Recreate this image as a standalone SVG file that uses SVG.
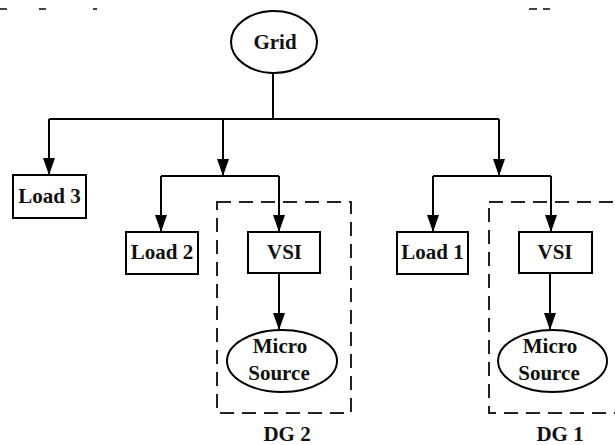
<svg xmlns="http://www.w3.org/2000/svg" width="615" height="445" viewBox="0 0 615 445">
  <style>
    .box { fill: #fff; stroke: #000; stroke-width: 2; }
    .dg { fill: none; stroke: #222; stroke-width: 2; stroke-dasharray: 14 8; }
    .wire { fill: none; stroke: #000; stroke-width: 2; }
    .lbl { font-family: "Liberation Serif", "Times New Roman", serif; font-weight: bold; font-size: 21px; fill: #111; text-anchor: middle; }
    .frag { fill: #444; }
  </style>
  <defs>
    <marker id="arrow" markerUnits="userSpaceOnUse" markerWidth="17" markerHeight="12" refX="17" refY="6" orient="auto">
      <path d="M0,0 L17,6 L0,12 Z" fill="#000"/>
    </marker>
  </defs>

  <rect width="615" height="445" fill="#fff"/>

  <!-- small marks along the top edge -->
  <g id="edge-marks">
    <rect class="frag" x="0" y="8" width="7" height="2"/>
    <rect class="frag" x="39" y="8" width="7" height="2"/>
    <rect class="frag" x="93" y="8" width="4" height="2"/>
    <rect class="frag" x="529" y="8" width="8" height="2"/>
    <rect class="frag" x="543" y="8" width="7" height="2"/>
  </g>

  <!-- distributed generation enclosures -->
  <g id="dg2">
    <rect class="dg" x="217" y="202" width="134" height="211"/>
    <text class="lbl" x="287" y="441">DG 2</text>
  </g>
  <g id="dg1">
    <rect class="dg" x="489" y="202" width="140" height="211"/>
    <text class="lbl" x="560" y="441">DG 1</text>
  </g>

  <g id="connectors">
    <path class="wire" d="M273,72 V119"/>
    <path class="wire" d="M49,119 H499"/>
    <path class="wire" d="M49,119 V175" marker-end="url(#arrow)"/>
    <path class="wire" d="M223,119 V176" marker-end="url(#arrow)"/>
    <path class="wire" d="M499,119 V176" marker-end="url(#arrow)"/>
    <path class="wire" d="M161,176 H279"/>
    <path class="wire" d="M433,176 H551"/>
    <path class="wire" d="M161,176 V232" marker-end="url(#arrow)"/>
    <path class="wire" d="M279,176 V232" marker-end="url(#arrow)"/>
    <path class="wire" d="M433,176 V232" marker-end="url(#arrow)"/>
    <path class="wire" d="M551,176 V232" marker-end="url(#arrow)"/>
    <path class="wire" d="M279,273 V330" marker-end="url(#arrow)"/>
    <path class="wire" d="M550,273 V330" marker-end="url(#arrow)"/>
  </g>

  <g id="grid">
    <ellipse class="box" cx="274" cy="42" rx="43" ry="31"/>
    <text class="lbl" x="275" y="49">Grid</text>
  </g>

  <g id="load3">
    <rect class="box" x="13" y="175" width="73" height="43"/>
    <text class="lbl" x="49.5" y="203">Load 3</text>
  </g>

  <g id="load2">
    <rect class="box" x="126" y="232" width="72" height="42"/>
    <text class="lbl" x="162" y="259">Load 2</text>
  </g>

  <g id="vsi2">
    <rect class="box" x="248" y="232" width="72" height="41"/>
    <text class="lbl" x="284.5" y="259">VSI</text>
  </g>

  <g id="load1">
    <rect class="box" x="397" y="232" width="71" height="42"/>
    <text class="lbl" x="432.5" y="259">Load 1</text>
  </g>

  <g id="vsi1">
    <rect class="box" x="519" y="232" width="73" height="41"/>
    <text class="lbl" x="555" y="259">VSI</text>
  </g>

  <g id="micro-source-2">
    <ellipse class="box" cx="282" cy="361" rx="55" ry="31"/>
    <text class="lbl" x="280" y="353">Micro</text>
    <text class="lbl" x="279" y="380">Source</text>
  </g>

  <g id="micro-source-1">
    <ellipse class="box" cx="552.5" cy="361" rx="54.5" ry="31"/>
    <text class="lbl" x="550" y="353">Micro</text>
    <text class="lbl" x="549" y="380">Source</text>
  </g>
</svg>
